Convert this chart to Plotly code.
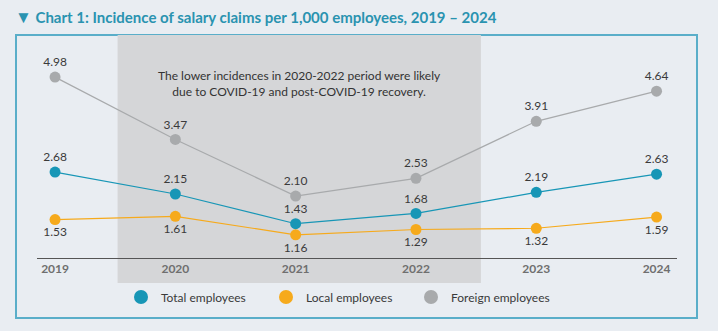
import plotly.graph_objects as go

years = ["2019", "2020", "2021", "2022", "2023", "2024"]
total = [2.68, 2.15, 1.43, 1.68, 2.19, 2.63]
local = [1.53, 1.61, 1.16, 1.29, 1.32, 1.59]
foreign = [4.98, 3.47, 2.10, 2.53, 3.91, 4.64]

series = [
    ("Total employees", total, "#1796b6", "top center"),
    ("Local employees", local, "#f6aa1c", "bottom center"),
    ("Foreign employees", foreign, "#a8aaac", "top center"),
]

FONT = "Lato"
fig = go.Figure()

for name, vals, col, pos in [series[2], series[1], series[0]]:
    fig.add_trace(go.Scatter(
        x=years, y=vals, mode="lines+markers+text", name=name,
        line=dict(color=col, width=1.2),
        marker=dict(color=col, size=11),
        text=[f"{v:.2f}" for v in vals], textposition=pos,
        textfont=dict(family=FONT, size=12, color="#3a3a3a"),
        showlegend=False, cliponaxis=False,
    ))

for name, vals, col, pos in series:
    fig.add_trace(go.Scatter(
        x=[None], y=[None], mode="markers", name=name,
        marker=dict(color=col, size=14), showlegend=True,
    ))

fig.update_layout(
    width=718, height=331,
    margin=dict(l=37, r=41, t=35, b=73),
    paper_bgcolor="#e9edf2", plot_bgcolor="rgba(0,0,0,0)",
    font=dict(family=FONT, color="#3a3a3a"),
    title=dict(
        text="<b><span style='font-size:17px'>▼</span> Chart 1: Incidence of salary claims per 1,000 employees, 2019 – 2024</b>",
        x=15 / 718, xanchor="left", y=1 - 18 / 331, yanchor="middle",
        font=dict(family=FONT, size=15, color="#2a93b0"),
    ),
    xaxis=dict(
        type="category", range=[-0.15, 5.17], showgrid=False, zeroline=False,
        showline=True, linecolor="#555555", linewidth=1,
        ticks="", tickfont=dict(family=FONT, size=12, color="#6f6f6f", weight="bold"),
        fixedrange=True,
    ),
    yaxis=dict(range=[0.6, 6], visible=False, fixedrange=True),
    legend=dict(
        orientation="h", x=(121 - 37) / 640, xanchor="left",
        y=(258 - 297) / 223, yanchor="middle",
        entrywidth=100, entrywidthmode="pixels",
        font=dict(family=FONT, size=12, color="#3a3a3a"),
        bgcolor="rgba(0,0,0,0)",
    ),
    shapes=[
        dict(type="rect", xref="paper", yref="paper",
             x0=(16 - 37) / 640, x1=(697 - 37) / 640,
             y0=(258 - 318) / 223, y1=1.0,
             line=dict(color="#5aaec9", width=2), fillcolor="rgba(0,0,0,0)",
             layer="below"),
        dict(type="rect", xref="x", yref="paper",
             x0=0.52, x1=3.54, y0=(258 - 283) / 223, y1=1.0,
             line=dict(width=0), fillcolor="#d5d6d8", layer="below"),
    ],
    annotations=[
        dict(text="The lower incidences in 2020-2022 period were likely<br>due to COVID-19 and post-COVID-19 recovery.",
             xref="x", yref="paper", x=2.03, y=(258 - 66) / 223,
             showarrow=False, align="center",
             font=dict(family=FONT, size=12, color="#333333")),
    ],
)

fig.write_html("out.html")
